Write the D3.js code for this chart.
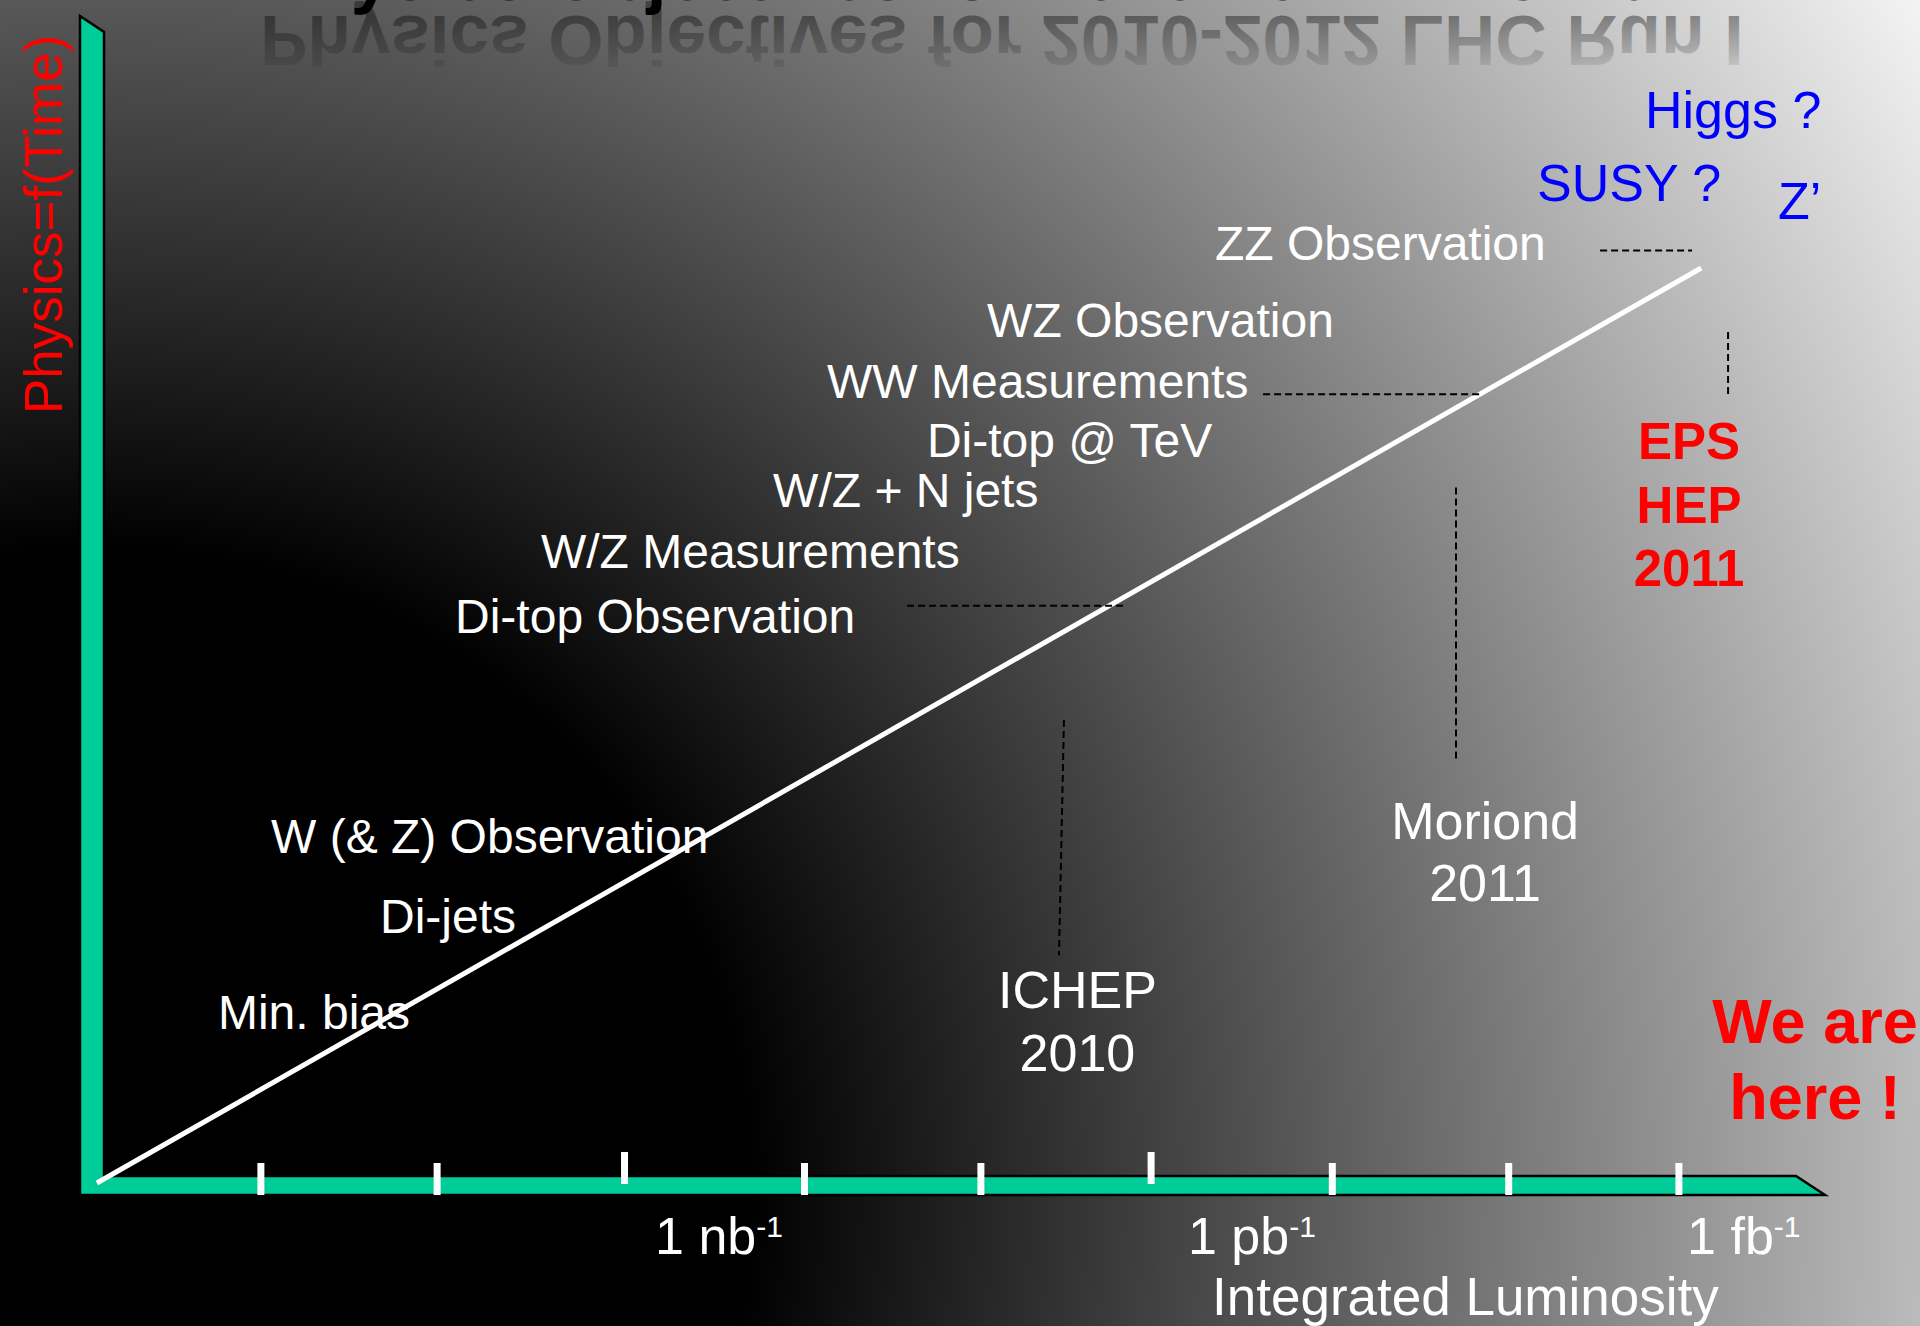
<!DOCTYPE html>
<html><head><meta charset="utf-8">
<script src="https://cdn.jsdelivr.net/npm/d3@7"></script>
<style>html,body{margin:0;padding:0;background:#000;overflow:hidden}svg{display:block}</style>
</head><body>
<script>
// ---------------- data (x: log10 integrated luminosity in pb^-1, y: "physics" level 0..100) ----------------
// tick marks (one per decade, hand placed)
const tickDecades = [-5.026, -4.033, -2.977, -1.963, -0.969, -0.010, 1.011, 2.005, 2.964];
const majorTicks = [2, 5]; // indices of the taller ticks (1 nb^-1 and 1 pb^-1)
const tickLabelText = ["1 nb", "1 pb", "1 fb"];
const tickLabelPos = [-2.805, 0.198, 3.010];

const trendLogLumi = [-5.95, 3.09];
const trendPhysics = [0, 100];

const milestoneNames = ["Min. bias", "Di-jets", "W (& Z) Observation", "Di-top Observation",
  "W/Z Measurements", "W/Z + N jets", "Di-top @ TeV", "WW Measurements", "WZ Observation", "ZZ Observation"];
const milestoneLogLumi = [-5.268, -4.355, -4.969, -3.932, -3.448, -2.140, -1.273, -1.836, -0.934, 0.350];
const milestonePhysics = [16.8, 27.3, 36.1, 60.1, 67.2, 73.9, 79.3, 85.8, 92.5, 100.9];

const discoveryNames = ["Higgs ?", "SUSY ?", "Z’"];
const discoveryLogLumi = [2.773, 2.165, 3.522];
const discoveryPhysics = [115.3, 107.3, 105.4];

const conferenceLines = [["ICHEP", "2010"], ["Moriond", "2011"]];
const conferenceLogLumi = [-0.425, 1.872];
const conferencePhysics = [19.1, 37.6];

const epsLines = ["EPS", "HEP", "2011"];
const epsLogLumi = 3.021, epsPhysics = 79.1;
const hereLines = ["We are", "here !"];
const hereLogLumi = 3.731, herePhysics = 15.3;

// dashed guides
const hGuideFrom = [2.520, 0.621, -1.385];
const hGuideTo = [3.038, 1.855, -0.157];
const hGuidePhysics = [101.9, 86.2, 63.1];
const vGuideTop = [-0.501, 1.708, 3.241];
const vGuideBottom = [-0.529, 1.708, 3.241];
const vGuidePhysTop = [50.6, 76.0, 93.0];
const vGuidePhysBottom = [24.9, 46.2, 86.2];

const titleText = "Physics Objectives for 2010-2012 LHC Run I";

// ---------------- drawing ----------------
const W = 1920, H = 1326;
const FONT = "'Liberation Sans', Arial, Helvetica, sans-serif";
const svg = d3.select("body").append("svg").attr("width", W).attr("height", H);
const defs = svg.append("defs");

const bg = defs.append("radialGradient").attr("id", "bg").attr("gradientUnits", "userSpaceOnUse")
  .attr("cx", 100).attr("cy", 1200).attr("r", 2254);
bg.append("stop").attr("offset", 0).attr("stop-color", "#000");
bg.append("stop").attr("offset", 0.288).attr("stop-color", "#000");
bg.append("stop").attr("offset", 1).attr("stop-color", "#fff");
svg.append("rect").attr("width", W).attr("height", H).attr("fill", "url(#bg)");

const x = d3.scaleLog().domain([1e-5, 1e3]).range([265.5, 1685.3]);
const y = d3.scaleLinear().domain([0, 100]).range([1183, 268]);
const L = v => x(Math.pow(10, v));

// title (mostly above the page) + its mirrored reflection
const TB = 0;
svg.append("text").attr("x", 260).attr("y", TB).attr("font-family", FONT).attr("font-weight", "bold")
  .attr("font-size", 71).attr("fill", "#000").text(titleText);
const rg = defs.append("linearGradient").attr("id", "refl").attr("gradientUnits", "userSpaceOnUse")
  .attr("x1", 0).attr("y1", TB).attr("x2", 0).attr("y2", TB - 52);
rg.append("stop").attr("offset", 0).attr("stop-color", "#000").attr("stop-opacity", 0.38);
rg.append("stop").attr("offset", 1).attr("stop-color", "#000").attr("stop-opacity", 0.08);
svg.append("g").attr("transform", `translate(0,${16 + TB}) scale(1,-1)`)
  .append("text").attr("x", 260).attr("y", TB).attr("font-family", FONT).attr("font-weight", "bold")
  .attr("font-size", 71).attr("fill", "url(#refl)").text(titleText);

// axes (L-shaped arrow body)
svg.append("polygon")
  .attr("points", [[80,16],[104,32],[104,1176],[1796,1176],[1825,1195],[80,1195]].map(p => p.join(",")).join(" "))
  .attr("fill", "#00cc99").attr("stroke", "#000").attr("stroke-width", 2.5).attr("stroke-linejoin", "miter");

// ticks
svg.append("g").selectAll("rect").data(tickDecades).join("rect")
  .attr("x", d => L(d) - 3.5).attr("width", 7)
  .attr("y", (d, i) => majorTicks.includes(i) ? 1152 : 1163).attr("height", 32)
  .attr("fill", "#fff");

// trend line
svg.append("line")
  .attr("x1", L(trendLogLumi[0])).attr("y1", y(trendPhysics[0]))
  .attr("x2", L(trendLogLumi[1])).attr("y2", y(trendPhysics[1]))
  .attr("stroke", "#fff").attr("stroke-width", 5);

// dashed guides
const guides = svg.append("g").attr("stroke", "#000").attr("stroke-width", 2).attr("stroke-dasharray", "7,4");
hGuideFrom.forEach((d, i) => guides.append("line")
  .attr("x1", L(d)).attr("x2", L(hGuideTo[i])).attr("y1", y(hGuidePhysics[i])).attr("y2", y(hGuidePhysics[i])));
vGuideTop.forEach((d, i) => guides.append("line")
  .attr("x1", L(d)).attr("x2", L(vGuideBottom[i])).attr("y1", y(vGuidePhysTop[i])).attr("y2", y(vGuidePhysBottom[i])));

// milestone labels
svg.append("g").selectAll("text").data(milestoneNames).join("text")
  .attr("x", (d, i) => L(milestoneLogLumi[i])).attr("y", (d, i) => y(milestonePhysics[i]))
  .attr("font-family", FONT).attr("font-size", 48).attr("fill", "#fff").text(d => d);

// discovery labels
svg.append("g").selectAll("text").data(discoveryNames).join("text")
  .attr("x", (d, i) => L(discoveryLogLumi[i])).attr("y", (d, i) => y(discoveryPhysics[i]))
  .attr("font-family", FONT).attr("font-size", 52).attr("fill", "#0000ff").text(d => d);

// multi-line centered labels
function block(lines, cx, cy, size, lh, color, weight) {
  const t = svg.append("text").attr("font-family", FONT).attr("font-size", size).attr("fill", color)
    .attr("font-weight", weight).attr("text-anchor", "middle");
  lines.forEach((s, i) => t.append("tspan").attr("x", cx).attr("y", cy + i * lh).text(s));
}
conferenceLines.forEach((lines, i) => block(lines, L(conferenceLogLumi[i]), y(conferencePhysics[i]), 52, 62.5, "#fff", "normal"));
block(epsLines, L(epsLogLumi), y(epsPhysics), 51, 63.5, "#ff0000", "bold");
block(hereLines, L(hereLogLumi), y(herePhysics), 63, 76, "#ff0000", "bold");

// axis tick labels
tickLabelText.forEach((s, i) => {
  const t = svg.append("text").attr("x", L(tickLabelPos[i])).attr("y", 1254)
    .attr("font-family", FONT).attr("font-size", 52).attr("fill", "#fff");
  t.append("tspan").text(s);
  t.append("tspan").attr("font-size", 30).attr("dy", -17).text("-1");
});

// axis titles
svg.append("text").attr("x", 1212).attr("y", 1315).attr("font-family", FONT).attr("font-size", 53)
  .attr("fill", "#fff").text("Integrated Luminosity");
svg.append("text").attr("transform", "translate(62,414) rotate(-90)")
  .attr("font-family", FONT).attr("font-size", 53).attr("fill", "#ff0000").text("Physics=f(Time)");
</script>
</body></html>
